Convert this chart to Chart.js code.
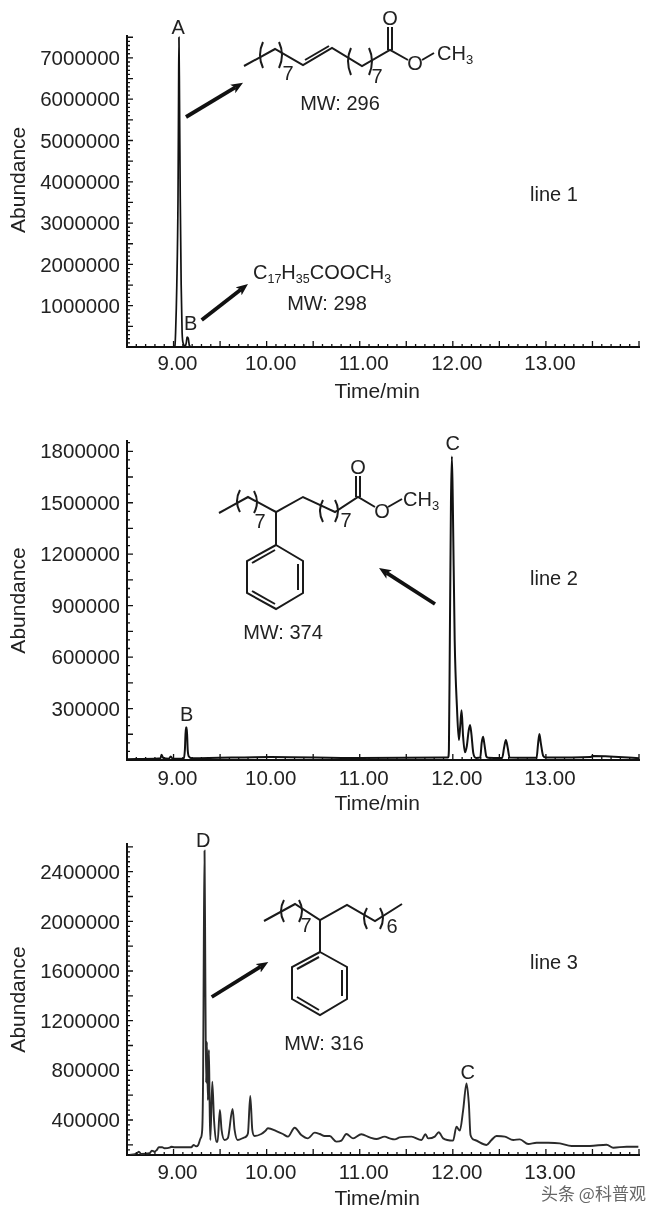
<!DOCTYPE html>
<html>
<head>
<meta charset="utf-8">
<title>GC-MS chromatograms</title>
<script src="https://cdn.jsdelivr.net/npm/chart.js@4/dist/chart.umd.min.js"></script>
<style>
    html, body { margin: 0; background: #fff; }
    #page { position: relative; width: 660px; height: 1217px; overflow: hidden; background: #fff; }
    canvas { position: absolute; left: 0; }
    #overlay { position: absolute; left: 0; top: 0; pointer-events: none; }
    #overlay text { font-family: "Liberation Sans", Arial, sans-serif; font-size: 20px; fill: #222; }
    #overlay .bond { fill: none; stroke: #1a1a1a; stroke-width: 2; }
    #overlay .arrow { stroke: #111; stroke-width: 3.8; marker-end: url(#head); }
</style>
</head>
<body>
<div id="page">
    <canvas id="chart1" width="660" height="410" style="top:0"></canvas>
    <canvas id="chart2" width="660" height="410" style="top:410px"></canvas>
    <canvas id="chart3" width="660" height="397" style="top:820px"></canvas>

    <svg id="overlay" width="660" height="1217">
        <defs>
            <marker id="head" viewBox="0 0 12 10" refX="3" refY="5" markerWidth="12" markerHeight="10" markerUnits="userSpaceOnUse" orient="auto">
                <path d="M0,0 L12,5 L0,10 L3,5 Z" fill="#111"/>
            </marker>
        </defs>

        <!-- line 1 annotations -->
        <line class="arrow" x1="186" y1="117" x2="235.3" y2="87.4"/>
        <line class="arrow" x1="201.7" y1="320" x2="240.9" y2="289.5"/>
        <polyline class="bond" points="244,66 275,49 303,65 332,48 362,66 390,50 408,60"/>
        <line class="bond" x1="305" y1="60" x2="329" y2="46"/>
        <line class="bond" x1="388" y1="50" x2="388" y2="27"/>
        <line class="bond" x1="392" y1="50" x2="392" y2="27"/>
        <line class="bond" x1="422" y1="60" x2="434" y2="53"/>
        <path class="bond" d="M263,42 Q257,55 263,68"/>
        <path class="bond" d="M279,42 Q285,55 279,68"/>
        <path class="bond" d="M351,48 Q345,61 351,75"/>
        <path class="bond" d="M369,48 Q375,61 369,75"/>
        <text x="288" y="80" text-anchor="middle">7</text>
        <text x="377" y="83" text-anchor="middle">7</text>
        <text x="390" y="25" text-anchor="middle">O</text>
        <text x="415" y="70" text-anchor="middle">O</text>
        <text x="437" y="60">CH<tspan font-size="13" dy="4">3</tspan></text>
        <text x="340" y="110" text-anchor="middle">MW: 296</text>
        <text x="253" y="279">C<tspan font-size="12.5" dy="4">17</tspan><tspan dy="-4">H</tspan><tspan font-size="12.5" dy="4">35</tspan><tspan dy="-4">COOCH</tspan><tspan font-size="12.5" dy="4">3</tspan></text>
        <text x="327" y="310" text-anchor="middle">MW: 298</text>
        <text x="530" y="201">line 1</text>

        <!-- line 2 annotations -->
        <line class="arrow" x1="435" y1="604" x2="386.6" y2="572.9"/>
        <polyline class="bond" points="219,513 248,497 276,512 303,497 335,512 358,497 375,507"/>
        <line class="bond" x1="356" y1="497" x2="356" y2="476"/>
        <line class="bond" x1="360" y1="497" x2="360" y2="476"/>
        <line class="bond" x1="388" y1="507" x2="402" y2="499"/>
        <line class="bond" x1="276" y1="512" x2="276" y2="545"/>
        <polygon class="bond" points="276,545 303,561 303,593 276,609 247,593 247,561"/>
        <line class="bond" x1="252" y1="563" x2="275" y2="550"/>
        <line class="bond" x1="298" y1="564" x2="298" y2="590"/>
        <line class="bond" x1="252" y1="591" x2="275" y2="604"/>
        <path class="bond" d="M240,490 Q234,501 240,512"/>
        <path class="bond" d="M254,491 Q260,502 254,513"/>
        <path class="bond" d="M323,500 Q317,511 323,522"/>
        <path class="bond" d="M335,500 Q341,511 335,522"/>
        <text x="260" y="528" text-anchor="middle">7</text>
        <text x="346" y="527" text-anchor="middle">7</text>
        <text x="358" y="474" text-anchor="middle">O</text>
        <text x="382" y="518" text-anchor="middle">O</text>
        <text x="403" y="506">CH<tspan font-size="13" dy="4">3</tspan></text>
        <text x="283" y="639" text-anchor="middle">MW: 374</text>
        <text x="530" y="585">line 2</text>

        <!-- line 3 annotations -->
        <line class="arrow" x1="211.7" y1="997" x2="260.6" y2="966.7"/>
        <polyline class="bond" points="264,921 295,904 320,920 347,905 375,921 402,904"/>
        <line class="bond" x1="320" y1="920" x2="320" y2="952"/>
        <polygon class="bond" points="320,952 347,967 347,999 320,1015 292,999 292,967"/>
        <line class="bond" x1="297" y1="969" x2="319" y2="957"/>
        <line class="bond" x1="342" y1="970" x2="342" y2="996"/>
        <line class="bond" x1="297" y1="997" x2="319" y2="1010"/>
        <path class="bond" d="M284,900 Q278,911 284,922"/>
        <path class="bond" d="M299,900 Q305,911 299,922"/>
        <path class="bond" d="M367,908 Q361,918 367,929"/>
        <path class="bond" d="M380,908 Q386,918 380,929"/>
        <text x="306" y="932" text-anchor="middle">7</text>
        <text x="392" y="933" text-anchor="middle">6</text>
        <text x="324" y="1050" text-anchor="middle">MW: 316</text>
        <text x="530" y="969">line 3</text>

        <text x="541" y="1200" style="font-family:'Noto Sans CJK SC';font-size:17px;fill:#666">头条 @科普观</text>
    </svg>
</div>

<script>
// Retention times (min) and abundance
const times1 = [8.5, 8.8, 9.0, 9.015, 9.022, 9.035, 9.048, 9.054, 9.058, 9.064, 9.072, 9.082, 9.092, 9.105, 9.125, 9.138, 9.145, 9.158, 9.17, 9.19, 10.0, 12.0, 14.0];
const abundance1 = [0, 0, 5000, 30000, 350000, 1500000, 3600000, 6000000, 7500000, 6000000, 3600000, 1500000, 350000, 80000, 20000, 120000, 240000, 210000, 40000, 5000, 0, 0, 0];

const times2 = [8.5, 8.8, 8.86, 8.87, 8.89, 8.95, 8.97, 8.99, 9.11, 9.122, 9.132, 9.142, 9.152, 9.165, 9.2, 10.05, 11.0, 11.95, 11.958, 11.968, 11.98, 11.99, 12.0, 12.02, 12.045, 12.065, 12.08, 12.094, 12.11, 12.13, 12.15, 12.17, 12.185, 12.2, 12.22, 12.25, 12.295, 12.31, 12.325, 12.34, 12.36, 12.38, 12.53, 12.55, 12.57, 12.59, 12.61, 12.9, 12.915, 12.93, 12.945, 12.97, 13.0, 13.48, 13.5, 14.0];
const abundance2 = [5000, 8000, 10000, 30000, 12000, 8000, 20000, 8000, 8000, 60000, 190000, 190000, 60000, 20000, 10000, 18000, 12000, 15000, 60000, 700000, 1500000, 1770000, 1500000, 700000, 300000, 117000, 200000, 290000, 140000, 45000, 80000, 170000, 204000, 150000, 40000, 12000, 15000, 100000, 136000, 90000, 20000, 13000, 12000, 70000, 117000, 70000, 14000, 13000, 90000, 152000, 100000, 25000, 14000, 17000, 24000, 10000];

const times3 = [8.5, 8.598, 8.627, 8.652, 8.742, 8.767, 8.795, 8.82, 8.842, 8.878, 8.903, 8.957, 8.975, 9.01, 9.19, 9.215, 9.243, 9.265, 9.29, 9.308, 9.318, 9.325, 9.333, 9.342, 9.35, 9.358, 9.369, 9.38, 9.388, 9.395, 9.416, 9.435, 9.459, 9.473, 9.498, 9.516, 9.548, 9.584, 9.634, 9.656, 9.688, 9.763, 9.799, 9.824, 9.846, 9.871, 9.942, 9.985, 10.014, 10.104, 10.175, 10.229, 10.301, 10.372, 10.444, 10.516, 10.57, 10.623, 10.677, 10.749, 10.803, 10.856, 10.928, 11.017, 11.107, 11.179, 11.268, 11.322, 11.376, 11.43, 11.555, 11.663, 11.706, 11.735, 11.806, 11.849, 11.896, 12.003, 12.039, 12.075, 12.111, 12.147, 12.172, 12.19, 12.236, 12.362, 12.416, 12.469, 12.559, 12.649, 12.72, 12.81, 12.9, 13.025, 13.15, 13.276, 13.473, 13.652, 13.724, 13.867, 13.993];
const abundance3 = [118000, 126000, 145000, 126000, 132000, 153000, 145000, 158000, 180000, 180000, 172000, 177000, 185000, 180000, 180000, 199000, 188000, 199000, 252000, 320000, 800000, 1800000, 2569000, 1500000, 700000, 1028000, 560000, 964000, 500000, 239000, 708000, 400000, 225000, 225000, 480000, 320000, 239000, 255000, 488000, 320000, 239000, 260000, 292000, 593000, 320000, 271000, 287000, 311000, 333000, 311000, 287000, 266000, 338000, 279000, 252000, 298000, 287000, 271000, 271000, 226000, 234000, 287000, 252000, 285000, 260000, 247000, 266000, 252000, 244000, 260000, 266000, 239000, 285000, 252000, 266000, 301000, 252000, 234000, 346000, 314000, 480000, 695000, 534000, 279000, 239000, 199000, 239000, 271000, 266000, 239000, 244000, 207000, 217000, 217000, 212000, 191000, 191000, 201000, 177000, 185000, 185000];

// Tick labels
const xLabels = [9, 10, 11, 12, 13];
const yLabels1 = [1000000, 2000000, 3000000, 4000000, 5000000, 6000000, 7000000];
const yLabels2 = [300000, 600000, 900000, 1200000, 1500000, 1800000];
const yLabels3 = [400000, 800000, 1200000, 1600000, 2000000, 2400000];

// Peak letters: name, time, height of the text baseline
const peakNames1 = ['A', 'B'];
const peakTimes1 = [9.05, 9.183];
const peakLevels1 = [7580000, 411000];
const peakNames2 = ['B', 'C'];
const peakTimes2 = [9.14, 12.0];
const peakLevels2 = [228000, 1810000];
const peakNames3 = ['D', 'C'];
const peakTimes3 = [9.32, 12.16];
const peakLevels3 = [2598000, 730000];

const FONT = '"Liberation Sans", Arial, sans-serif';
const INK = '#222';

// Inward ticks and the peak letters, drawn from the chart's own scales
const tracePlugin = {
    id: 'trace',
    afterDraw(chart, args, opts) {
        const { ctx, chartArea, scales } = chart;
        ctx.save();
        ctx.strokeStyle = '#111';
        ctx.lineWidth = 1.3;
        ctx.beginPath();
        scales.x.ticks.forEach(t => {
            const x = scales.x.getPixelForValue(t.value);
            const len = t.major ? 6 : 3;
            ctx.moveTo(x, chartArea.bottom);
            ctx.lineTo(x, chartArea.bottom - len);
        });
        scales.y.ticks.forEach(t => {
            const y = scales.y.getPixelForValue(t.value);
            const len = t.major ? 6 : 3;
            ctx.moveTo(chartArea.left, y);
            ctx.lineTo(chartArea.left + len, y);
        });
        ctx.stroke();

        ctx.fillStyle = INK;
        ctx.font = '20px ' + FONT;
        ctx.textAlign = 'center';
        ctx.textBaseline = 'alphabetic';
        opts.names.forEach((name, i) => {
            ctx.fillText(name, scales.x.getPixelForValue(opts.times[i]), scales.y.getPixelForValue(opts.levels[i]));
        });
        ctx.restore();
    }
};

function makeChart(id, cfg) {
    return new Chart(document.getElementById(id), {
        type: 'line',
        data: {
            labels: cfg.times,
            datasets: [{
                data: cfg.times.map((t, i) => ({ x: t, y: cfg.values[i] })),
                borderColor: cfg.color,
                borderWidth: cfg.lineWidth,
                pointRadius: 0,
                cubicInterpolationMode: 'monotone'
            }]
        },
        options: {
            responsive: false,
            animation: false,
            layout: { padding: { top: cfg.top, right: 21, left: 0, bottom: 0 } },
            plugins: {
                legend: { display: false },
                tooltip: { enabled: false },
                trace: { names: cfg.names, times: cfg.peakTimes, levels: cfg.levels }
            },
            scales: {
                x: {
                    type: 'linear',
                    min: 8.5,
                    max: 14,
                    grid: { display: false, drawTicks: false },
                    border: { color: '#111', width: 2 },
                    afterFit: s => { s.height = cfg.xHeight; },
                    afterBuildTicks: s => {
                        s.ticks = [];
                        for (let i = 0; i <= 55; i++) {
                            s.ticks.push({ value: (85 + i) / 10, major: i % 5 === 0 });
                        }
                    },
                    ticks: {
                        autoSkip: false,
                        maxRotation: 0,
                        padding: cfg.xPad,
                        labelOffset: 4,
                        color: INK,
                        font: { family: FONT, size: 20.5 },
                        callback: v => xLabels.includes(v) ? v.toFixed(2) : ''
                    },
                    title: {
                        display: true,
                        text: 'Time/min\u00a0\u00a0',
                        color: INK,
                        font: { family: FONT, size: 21 },
                        padding: { top: 0, bottom: cfg.xTitlePad }
                    }
                },
                y: {
                    min: cfg.min,
                    max: cfg.max,
                    grid: { display: false, drawTicks: false },
                    border: { color: '#111', width: 2 },
                    afterFit: s => { s.width = 127; },
                    afterBuildTicks: s => {
                        s.ticks = [];
                        const first = Math.ceil(cfg.min / cfg.minor) * cfg.minor;
                        for (let v = first; v <= cfg.max; v += cfg.minor) {
                            s.ticks.push({ value: v, major: v % cfg.major === 0 });
                        }
                    },
                    ticks: {
                        autoSkip: false,
                        padding: 7,
                        labelOffset: 1.5,
                        color: INK,
                        font: { family: FONT, size: 20.5 },
                        callback: v => cfg.labels.includes(v) ? String(v) : ''
                    },
                    title: {
                        display: true,
                        text: cfg.yTitle,
                        color: INK,
                        font: { family: FONT, size: 21 },
                        padding: { top: 7, bottom: 0 }
                    }
                }
            }
        },
        plugins: [tracePlugin]
    });
}

makeChart('chart1', {
    times: times1, values: abundance1, color: '#111', lineWidth: 1.7,
    names: peakNames1, peakTimes: peakTimes1, levels: peakLevels1,
    min: 0, max: 7530000, minor: 100000, major: 500000, labels: yLabels1,
    top: 36, xHeight: 63, xPad: 5, xTitlePad: 5,
    yTitle: '\u00a0\u00a0\u00a0\u00a0Abundance'
});

makeChart('chart2', {
    times: times2, values: abundance2, color: '#111', lineWidth: 2,
    names: peakNames2, peakTimes: peakTimes2, levels: peakLevels2,
    min: 0, max: 1860000, minor: 50000, major: 150000, labels: yLabels2,
    top: 31, xHeight: 60, xPad: 7, xTitlePad: 3,
    yTitle: 'Abundance'
});

makeChart('chart3', {
    times: times3, values: abundance3, color: '#2a2a2a', lineWidth: 1.9,
    names: peakNames3, peakTimes: peakTimes3, levels: peakLevels3,
    min: 118000, max: 2623000, minor: 40000, major: 200000, labels: yLabels3,
    top: 24, xHeight: 62, xPad: 6, xTitlePad: 5,
    yTitle: 'Abundance'
});
</script>
</body>
</html>
